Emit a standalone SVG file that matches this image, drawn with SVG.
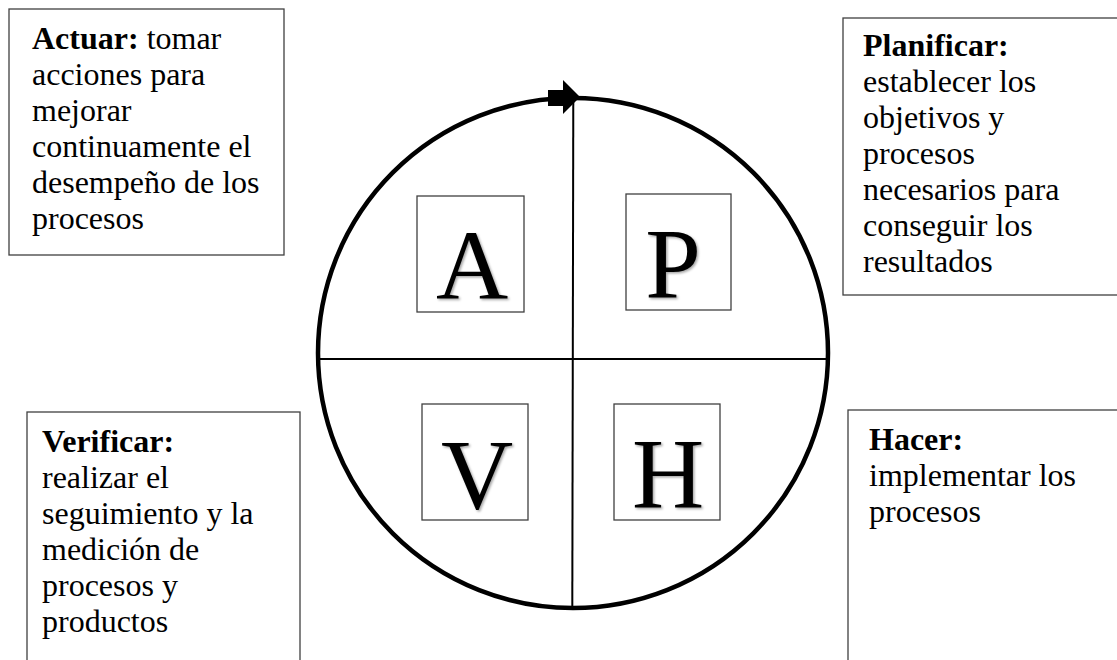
<svg xmlns="http://www.w3.org/2000/svg" width="1117" height="660" viewBox="0 0 1117 660">
<defs>
<filter id="sh" x="-20%" y="-20%" width="140%" height="140%">
<feDropShadow dx="1.5" dy="1.5" stdDeviation="1.2" flood-color="#000" flood-opacity="0.35"/>
</filter>
</defs>
<style>
.box{fill:#fff;stroke:#404040;stroke-width:1.3}
.t{font-family:"Liberation Serif","Times New Roman",serif;font-size:32px;fill:#000}
.b{font-weight:bold}
.big{font-family:"Liberation Serif","Times New Roman",serif;font-size:100px;fill:#000;text-anchor:middle;filter:url(#sh)}
.lbox{fill:#fff;stroke:#404040;stroke-width:1.3}
</style>
<rect width="1117" height="660" fill="#fff"/>
<g id="connectors">
<circle cx="573" cy="353" r="255" fill="none" stroke="#000" stroke-width="4.5"/>
<line x1="318" y1="359" x2="828" y2="359" stroke="#000" stroke-width="2"/>
<line x1="573.3" y1="98" x2="572.3" y2="608" stroke="#000" stroke-width="2"/>
<polygon points="548,90 563,90 563,80 580,97 563,114 563,106 548,106" fill="#000"/>
</g>
<g id="node-actuar">
<rect class="box" x="9" y="9" width="275" height="246"/>
<text class="t" x="32" y="49"><tspan class="b">Actuar:</tspan> tomar</text>
<text class="t" x="32" y="85">acciones para</text>
<text class="t" x="32" y="121">mejorar</text>
<text class="t" x="32" y="157">continuamente el</text>
<text class="t" x="32" y="193">desempeño de los</text>
<text class="t" x="32" y="229">procesos</text>
</g>
<g id="node-planificar">
<rect class="box" x="843" y="18" width="290" height="277"/>
<text class="t b" x="863" y="56">Planificar:</text>
<text class="t" x="863" y="92">establecer los</text>
<text class="t" x="863" y="128">objetivos y</text>
<text class="t" x="863" y="164">procesos</text>
<text class="t" x="863" y="200">necesarios para</text>
<text class="t" x="863" y="236">conseguir los</text>
<text class="t" x="863" y="272">resultados</text>
</g>
<g id="node-verificar">
<rect class="box" x="27" y="412" width="273" height="260"/>
<text class="t b" x="42" y="452">Verificar:</text>
<text class="t" x="42" y="488">realizar el</text>
<text class="t" x="42" y="524">seguimiento y la</text>
<text class="t" x="42" y="560">medición de</text>
<text class="t" x="42" y="596">procesos y</text>
<text class="t" x="42" y="632">productos</text>
</g>
<g id="node-hacer">
<rect class="box" x="848" y="410" width="290" height="270"/>
<text class="t b" x="869" y="450">Hacer:</text>
<text class="t" x="869" y="486">implementar los</text>
<text class="t" x="869" y="522">procesos</text>
</g>
<g id="node-A">
<rect class="lbox" x="417" y="196" width="107" height="116"/>
<text class="big" x="472" y="299">A</text>
</g>
<g id="node-P">
<rect class="lbox" x="626" y="194" width="105" height="116"/>
<text class="big" x="673" y="297">P</text>
</g>
<g id="node-V">
<rect class="lbox" x="422" y="404" width="106" height="116"/>
<text class="big" x="477" y="508">V</text>
</g>
<g id="node-H">
<rect class="lbox" x="614" y="404" width="106" height="116"/>
<text class="big" x="668" y="507">H</text>
</g>
</svg>
